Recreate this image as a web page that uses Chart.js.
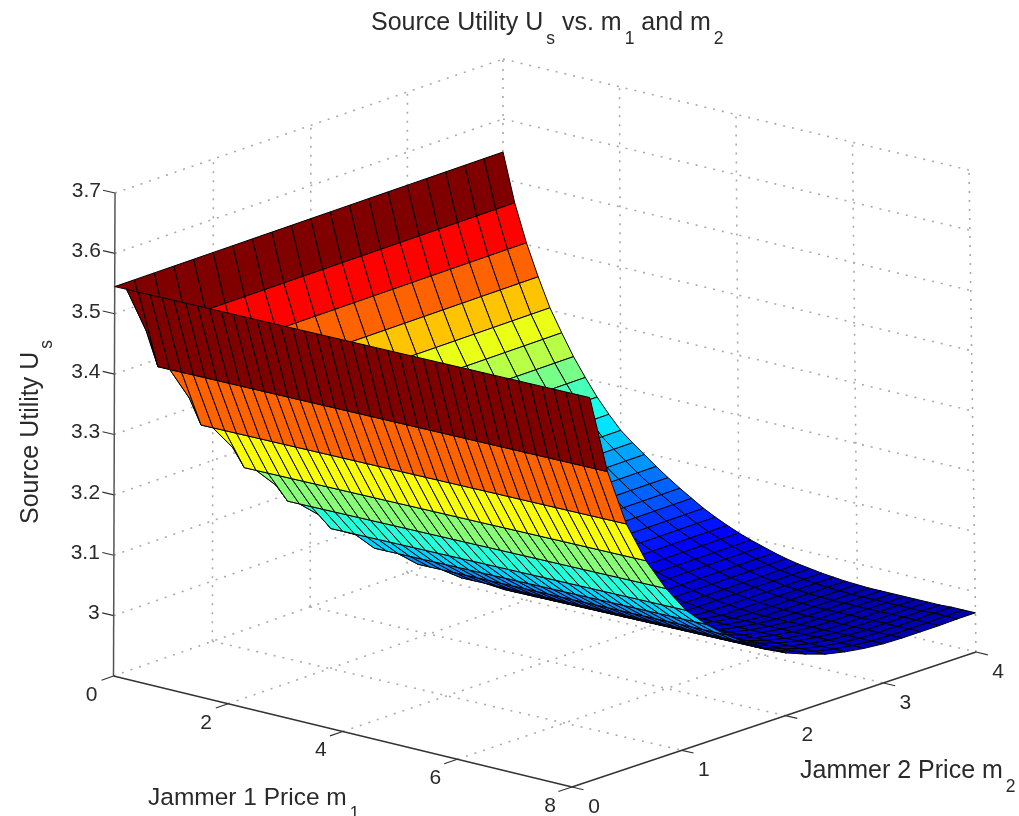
<!DOCTYPE html>
<html lang="en">
<head>
    <meta charset="UTF-8" />
    <title>Source Utility</title>
    <script src="https://cdn.jsdelivr.net/npm/chart.js"></script>
    <style>
        html, body { margin: 0; padding: 0; background: #fff; }
        canvas { display: block; filter: blur(0.6px); }
    </style>
</head>
<body>
    <canvas id="surfaceChart" width="1019" height="816"></canvas>
    <script>
        // axis values
        const m1Values = [0,0.2,0.4,0.6,0.8,1,1.2,1.4,1.6,1.8,2,2.2,2.4,2.6,2.8,3,3.2,3.4,3.6,3.8,4,4.2,4.4,4.6,4.8,5,5.2,5.4,5.6,5.8,6,6.2,6.4,6.6,6.8,7,7.2,7.4,7.6,7.8,8];
        const m2Values = [0,0.2,0.4,0.6,0.8,1,1.2,1.4,1.6,1.8,2,2.2,2.4,2.6,2.8,3,3.2,3.4,3.6,3.8,4];
        const m1Ticks = [0,2,4,6,8];
        const m2Ticks = [0,1,2,3,4];
        const usTicks = [3,3.1,3.2,3.3,3.4,3.5,3.6,3.7];
        const usTickLabels = ['3','3.1','3.2','3.3','3.4','3.5','3.6','3.7'];
        const usMin = 2.9, usMax = 3.7;

        // Us, one row per m2 value, one column per m1 value
        const usM2_00 = [3.545,3.545,3.545,3.545,3.545,3.545,3.545,3.545,3.545,3.545,3.545,3.545,3.545,3.545,3.545,3.545,3.545,3.545,3.545,3.545,3.545,3.545,3.545,3.545,3.545,3.545,3.545,3.545,3.545,3.545,3.545,3.545,3.545,3.545,3.545,3.545,3.545,3.545,3.545,3.545,3.545];
        const usM2_02 = [3.545,3.465,3.41,3.41,3.41,3.41,3.41,3.41,3.41,3.41,3.41,3.41,3.41,3.41,3.41,3.41,3.41,3.41,3.41,3.41,3.41,3.41,3.41,3.41,3.41,3.41,3.41,3.41,3.41,3.41,3.41,3.41,3.41,3.41,3.41,3.41,3.41,3.41,3.41,3.41,3.41];
        const usM2_04 = [3.545,3.465,3.403,3.351,3.311,3.311,3.311,3.311,3.311,3.311,3.311,3.311,3.311,3.311,3.311,3.311,3.311,3.311,3.311,3.311,3.311,3.311,3.311,3.311,3.311,3.311,3.311,3.311,3.311,3.311,3.311,3.311,3.311,3.311,3.311,3.311,3.311,3.311,3.311,3.311,3.311];
        const usM2_06 = [3.545,3.465,3.403,3.351,3.304,3.267,3.238,3.238,3.238,3.238,3.238,3.238,3.238,3.238,3.238,3.238,3.238,3.238,3.238,3.238,3.238,3.238,3.238,3.238,3.238,3.238,3.238,3.238,3.238,3.238,3.238,3.238,3.238,3.238,3.238,3.238,3.238,3.238,3.238,3.238,3.238];
        const usM2_08 = [3.545,3.465,3.403,3.351,3.304,3.267,3.232,3.202,3.18,3.18,3.18,3.18,3.18,3.18,3.18,3.18,3.18,3.18,3.18,3.18,3.18,3.18,3.18,3.18,3.18,3.18,3.18,3.18,3.18,3.18,3.18,3.18,3.18,3.18,3.18,3.18,3.18,3.18,3.18,3.18,3.18];
        const usM2_10 = [3.545,3.465,3.403,3.351,3.304,3.267,3.232,3.202,3.174,3.15,3.132,3.132,3.132,3.132,3.132,3.132,3.132,3.132,3.132,3.132,3.132,3.132,3.132,3.132,3.132,3.132,3.132,3.132,3.132,3.132,3.132,3.132,3.132,3.132,3.132,3.132,3.132,3.132,3.132,3.132,3.132];
        const usM2_12 = [3.545,3.465,3.403,3.351,3.304,3.267,3.232,3.202,3.174,3.15,3.128,3.112,3.097,3.097,3.097,3.097,3.097,3.097,3.097,3.097,3.097,3.097,3.097,3.097,3.097,3.097,3.097,3.097,3.097,3.097,3.097,3.097,3.097,3.097,3.097,3.097,3.097,3.097,3.097,3.097,3.097];
        const usM2_14 = [3.545,3.465,3.403,3.351,3.304,3.267,3.232,3.202,3.174,3.15,3.128,3.112,3.097,3.082,3.068,3.068,3.068,3.068,3.068,3.068,3.068,3.068,3.068,3.068,3.068,3.068,3.068,3.068,3.068,3.068,3.068,3.068,3.068,3.068,3.068,3.068,3.068,3.068,3.068,3.068,3.068];
        const usM2_16 = [3.545,3.465,3.403,3.351,3.304,3.267,3.232,3.202,3.174,3.15,3.128,3.112,3.097,3.082,3.068,3.055,3.043,3.043,3.043,3.043,3.043,3.043,3.043,3.043,3.043,3.043,3.043,3.043,3.043,3.043,3.043,3.043,3.043,3.043,3.043,3.043,3.043,3.043,3.043,3.043,3.043];
        const usM2_18 = [3.545,3.465,3.403,3.351,3.304,3.267,3.232,3.202,3.174,3.15,3.128,3.112,3.097,3.082,3.068,3.055,3.043,3.031,3.021,3.021,3.021,3.021,3.021,3.021,3.021,3.021,3.021,3.021,3.021,3.021,3.021,3.021,3.021,3.021,3.021,3.021,3.021,3.021,3.021,3.021,3.021];
        const usM2_20 = [3.545,3.465,3.403,3.351,3.304,3.267,3.232,3.202,3.174,3.15,3.128,3.112,3.097,3.082,3.068,3.055,3.043,3.031,3.021,3.012,3.004,3.004,3.004,3.004,3.004,3.004,3.004,3.004,3.004,3.004,3.004,3.004,3.004,3.004,3.004,3.004,3.004,3.004,3.004,3.004,3.004];
        const usM2_22 = [3.545,3.465,3.403,3.351,3.304,3.267,3.232,3.202,3.174,3.15,3.128,3.112,3.097,3.082,3.068,3.055,3.043,3.031,3.021,3.012,3.004,2.997,2.991,2.991,2.991,2.991,2.991,2.991,2.991,2.991,2.991,2.991,2.991,2.991,2.991,2.991,2.991,2.991,2.991,2.991,2.991];
        const usM2_24 = [3.545,3.465,3.403,3.351,3.304,3.267,3.232,3.202,3.174,3.15,3.128,3.112,3.097,3.082,3.068,3.055,3.043,3.031,3.021,3.012,3.004,2.997,2.991,2.985,2.98,2.98,2.98,2.98,2.98,2.98,2.98,2.98,2.98,2.98,2.98,2.98,2.98,2.98,2.98,2.98,2.98];
        const usM2_26 = [3.545,3.465,3.403,3.351,3.304,3.267,3.232,3.202,3.174,3.15,3.128,3.112,3.097,3.082,3.068,3.055,3.043,3.031,3.021,3.012,3.004,2.997,2.991,2.985,2.98,2.976,2.973,2.973,2.973,2.973,2.973,2.973,2.973,2.973,2.973,2.973,2.973,2.973,2.973,2.973,2.973];
        const usM2_28 = [3.545,3.465,3.403,3.351,3.304,3.267,3.232,3.202,3.174,3.15,3.128,3.112,3.097,3.082,3.068,3.055,3.043,3.031,3.021,3.012,3.004,2.997,2.991,2.985,2.98,2.976,2.973,2.97,2.968,2.968,2.968,2.968,2.968,2.968,2.968,2.968,2.968,2.968,2.968,2.968,2.968];
        const usM2_30 = [3.545,3.465,3.403,3.351,3.304,3.267,3.232,3.202,3.174,3.15,3.128,3.112,3.097,3.082,3.068,3.055,3.043,3.031,3.021,3.012,3.004,2.997,2.991,2.985,2.98,2.976,2.973,2.97,2.968,2.966,2.965,2.965,2.965,2.965,2.965,2.965,2.965,2.965,2.965,2.965,2.965];
        const usM2_32 = [3.545,3.465,3.403,3.351,3.304,3.267,3.232,3.202,3.174,3.15,3.128,3.112,3.097,3.082,3.068,3.055,3.043,3.031,3.021,3.012,3.004,2.997,2.991,2.985,2.98,2.976,2.973,2.97,2.968,2.966,2.965,2.964,2.964,2.964,2.964,2.964,2.964,2.964,2.964,2.964,2.964];
        const usM2_34 = [3.545,3.465,3.403,3.351,3.304,3.267,3.232,3.202,3.174,3.15,3.128,3.112,3.097,3.082,3.068,3.055,3.043,3.031,3.021,3.012,3.004,2.997,2.991,2.985,2.98,2.976,2.973,2.97,2.968,2.966,2.965,2.964,2.964,2.964,2.964,2.964,2.964,2.964,2.964,2.964,2.964];
        const usM2_36 = [3.545,3.465,3.403,3.351,3.304,3.267,3.232,3.202,3.174,3.15,3.128,3.112,3.097,3.082,3.068,3.055,3.043,3.031,3.021,3.012,3.004,2.997,2.991,2.985,2.98,2.976,2.973,2.97,2.968,2.966,2.965,2.964,2.964,2.964,2.964,2.964,2.964,2.964,2.964,2.964,2.964];
        const usM2_38 = [3.545,3.465,3.403,3.351,3.304,3.267,3.232,3.202,3.174,3.15,3.128,3.112,3.097,3.082,3.068,3.055,3.043,3.031,3.021,3.012,3.004,2.997,2.991,2.985,2.98,2.976,2.973,2.97,2.968,2.966,2.965,2.964,2.964,2.964,2.964,2.964,2.964,2.964,2.965,2.965,2.965];
        const usM2_40 = [3.545,3.465,3.403,3.351,3.304,3.267,3.232,3.202,3.174,3.15,3.128,3.112,3.097,3.082,3.068,3.055,3.043,3.031,3.021,3.012,3.004,2.997,2.991,2.985,2.98,2.976,2.973,2.97,2.968,2.966,2.965,2.964,2.964,2.964,2.964,2.964,2.964,2.964,2.965,2.965,2.965];
        const usRows = [usM2_00,usM2_02,usM2_04,usM2_06,usM2_08,usM2_10,usM2_12,usM2_14,usM2_16,usM2_18,usM2_20,usM2_22,usM2_24,usM2_26,usM2_28,usM2_30,usM2_32,usM2_34,usM2_36,usM2_38,usM2_40];

        // where the 8 corners of the plot box land on the page: [m1=0,m2=0] [8,0] [8,4] [0,4]
        const floorCorners = [[113.5,676],[572,787],[976,652],[503,539]];
        const roofCorners = [[115,193],[594,304],[969,170],[503,59]];

        function project(m1, m2, us) {
            const u = m1 / 8, t = (us - usMin) / (usMax - usMin);
            // the m2 axis is a bit foreshortened toward the back, more so at the m1=8 end
            const a = 0.02 + 0.1 * u;
            const v = (m2 / 4) * (1 + a) / (1 + a * m2 / 4);
            const mix = (c, k) => (1-u)*(1-v)*c[0][k] + u*(1-v)*c[1][k] + u*v*c[2][k] + (1-u)*v*c[3][k];
            return {
                x: mix(floorCorners, 0) * (1-t) + mix(roofCorners, 0) * t,
                y: mix(floorCorners, 1) * (1-t) + mix(roofCorners, 1) * t
            };
        }

        // matlab jet(64), the blue end of the reference stops short of navy
        const colorLo = 2.93;
        function jetColor(us, lo, hi) {
            const level = Math.min(63, Math.floor((us - lo) / (hi - lo) * 64));
            const f = level / 63;
            const ch = c => Math.round(255 * Math.max(0, Math.min(1, 1.5 - Math.abs(4 * f - c))));
            return `rgb(${ch(3)},${ch(2)},${ch(1)})`;
        }

        const usHi = Math.max(...usRows.flat());
        const datasets = [];

        // near cells first, chart.js paints the last dataset first
        for (let j = 0; j < m2Values.length - 1; j++) {
            for (let i = m1Values.length - 2; i >= 0; i--) {
                const corners = [[i,j],[i+1,j],[i+1,j+1],[i,j+1],[i,j]];
                datasets.push({
                    data: corners.map(c => project(m1Values[c[0]], m2Values[c[1]], usRows[c[1]][c[0]])),
                    showLine: true,
                    fill: 'shape',
                    backgroundColor: jetColor(usRows[j][i], colorLo, usHi),
                    borderColor: '#000',
                    borderWidth: 1,
                    pointRadius: 0
                });
            }
        }

        function addLine(a, b, color, width, dash) {
            datasets.push({
                data: [project(a[0], a[1], a[2]), project(b[0], b[1], b[2])],
                showLine: true,
                fill: false,
                borderColor: color,
                borderWidth: width,
                borderDash: dash || [],
                pointRadius: 0
            });
        }

        // axes and ticks, painted under the surface
        addLine([0,0,usMin], [8,0,usMin], '#333', 1.5);
        addLine([8,0,usMin], [8,4,usMin], '#333', 1.5);
        addLine([0,0,usMin], [0,0,usMax], '#555', 1.5);
        m1Ticks.forEach(m => addLine([m,0,usMin], [m,-0.12,usMin], '#333', 1.2));
        m2Ticks.forEach(m => addLine([8,m,usMin], [8.2,m,usMin], '#333', 1.2));
        usTicks.forEach(z => addLine([0,0,z], [-0.2,0,z], '#333', 1.2));

        // dotted grid on the two back walls and the floor
        const gridColor = '#aaa', gridDash = [2, 7];
        [usMin, ...usTicks].forEach(z => {
            addLine([0,0,z], [0,4,z], gridColor, 1.6, gridDash);
            addLine([0,4,z], [8,4,z], gridColor, 1.6, gridDash);
        });
        m2Ticks.slice(1).forEach(m => addLine([0,m,usMin], [0,m,usMax], gridColor, 1.6, gridDash));
        m1Ticks.slice(1).forEach(m => addLine([m,4,usMin], [m,4,usMax], gridColor, 1.6, gridDash));
        m1Ticks.slice(1, -1).forEach(m => addLine([m,0,usMin], [m,4,usMin], gridColor, 1.6, gridDash));
        m2Ticks.slice(1, -1).forEach(m => addLine([0,m,usMin], [8,m,usMin], gridColor, 1.6, gridDash));

        // text with subscripts, parts are [string, isSubscript]
        function drawParts(ctx, x, y, parts, size, angle) {
            ctx.save();
            ctx.translate(x, y);
            ctx.rotate(angle || 0);
            ctx.textAlign = 'left';
            ctx.textBaseline = 'alphabetic';
            let pos = 0;
            parts.forEach(p => {
                ctx.font = `${p[1] ? size * 0.7 : size}px "Liberation Sans"`;
                ctx.fillText(p[0], pos + (p[1] ? 3 : 0), p[1] ? size * 0.55 : 0);
                pos += ctx.measureText(p[0]).width + (p[1] ? 3 : 0);
            });
            ctx.restore();
        }

        const textPlugin = {
            id: 'plotText',
            afterDraw(chart) {
                const ctx = chart.ctx;
                const sx = chart.scales.x, sy = chart.scales.y;
                const at = (m1, m2, z) => {
                    const p = project(m1, m2, z);
                    return [sx.getPixelForValue(p.x), sy.getPixelForValue(p.y)];
                };
                ctx.save();
                ctx.fillStyle = '#2a2a2a';
                ctx.font = '21px "Liberation Sans"';
                ctx.textAlign = 'center';
                ctx.textBaseline = 'middle';
                m1Ticks.forEach(m => {
                    const p = at(m, 0, usMin);
                    ctx.fillText(String(m), p[0] - 22, p[1] + 19);
                });
                m2Ticks.forEach(m => {
                    const p = at(8, m, usMin);
                    ctx.fillText(String(m), p[0] + 22, p[1] + 20);
                });
                ctx.textAlign = 'right';
                usTicks.forEach((z, k) => {
                    const p = at(0, 0, z);
                    ctx.fillText(usTickLabels[k], p[0] - 14, p[1] - 2);
                });
                drawParts(ctx, 371, 30, [['Source Utility U',0],['s',1],[' vs. m',0],['1',1],[' and m',0],['2',1]], 25);
                drawParts(ctx, 148, 805, [['Jammer 1 Price m',0],['1',1]], 24.5);
                drawParts(ctx, 800, 778, [['Jammer 2 Price m',0],['2',1]], 25);
                drawParts(ctx, 38, 524, [['Source Utility U',0],['s',1]], 25, -Math.PI / 2);
                ctx.restore();
            }
        };

        new Chart(document.getElementById('surfaceChart'), {
            type: 'scatter',
            data: { datasets },
            plugins: [textPlugin],
            options: {
                responsive: false,
                animation: false,
                events: [],
                layout: { padding: 0 },
                scales: {
                    x: { type: 'linear', min: 0, max: 1019, display: false },
                    y: { type: 'linear', min: 0, max: 816, reverse: true, display: false }
                },
                plugins: { legend: { display: false }, tooltip: { enabled: false } },
                elements: { line: { tension: 0 } }
            }
        });
    </script>
</body>
</html>
